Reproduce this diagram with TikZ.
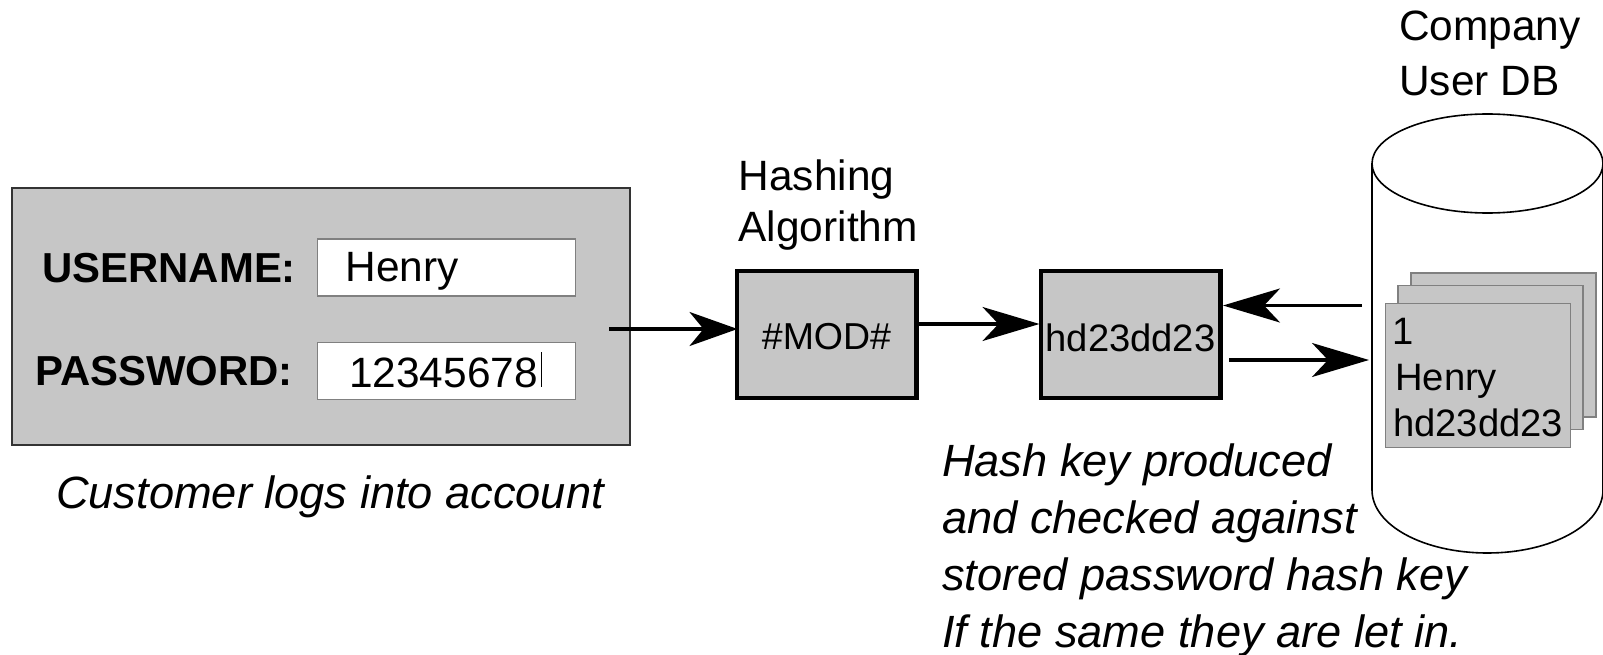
\documentclass[tikz,border=0pt]{standalone}
\usepackage{fontspec}
\setmainfont{Liberation Sans}
\usetikzlibrary{arrows.meta}

\definecolor{boxgray}{HTML}{C6C6C6}
\tikzset{
  flow/.style={line width=3.1pt, -{Stealth[length=48pt,width=34pt,inset=14pt]}, shorten >=-3pt},
  longflow/.style={line width=3.1pt, -{Stealth[length=57pt,width=34pt,inset=16pt]}, shorten >=-1pt},
  blockbox/.style={draw, fill=boxgray, line width=4.5pt, minimum width=179.5pt, minimum height=127pt, inner sep=0pt, text height=34pt, text depth=0pt, font=\fontsize{38.2}{44}\selectfont},
  fieldbox/.style={draw=gray, fill=white, line width=1.2pt, minimum width=258pt, minimum height=57pt, inner sep=0pt},
  recordbox/.style={draw=gray, fill=boxgray, line width=1.5pt, minimum width=185pt, minimum height=144pt, inner sep=0pt},
  plain/.style={inner sep=0pt, anchor=base west, font=\fontsize{42.4}{52}\selectfont},
  recordtext/.style={inner sep=0pt, anchor=base west, font=\fontsize{38.2}{44}\selectfont},
  formlabel/.style={inner sep=0pt, anchor=base west, font=\bfseries\fontsize{41.9}{52}\selectfont},
  note/.style={inner sep=0pt, anchor=base west, font=\itshape\fontsize{45.2}{57}\selectfont, align=left}
}

\begin{document}
\begin{tikzpicture}[x=1pt, y=-1pt]
\useasboundingbox (0,0) rectangle (1603,655);
% Login form on the left
\node[draw=black!80, fill=boxgray, line width=1.2pt, minimum width=618pt, minimum height=257pt, inner sep=0pt] (loginform) at (321,316.5) {};
\node[fieldbox] (userfield) at (446.5,267.5) {};
\node[fieldbox] (passfield) at (446.5,371) {};
\node[formlabel] (userlabel) at (42,282.5) {USERNAME:};
\node[formlabel] (passlabel) at (35,385.5) {PASSWORD:};
\node[plain] (usertext) at (345.5,281) {Henry};
\node[plain] (passtext) at (349,387) {12345678};
\draw[line width=1pt] (541.5,352) -- (541.5,387);
\node[note] (logincaption) at (56,508) {Customer logs into account};
% The two blocks in the middle
\node[blockbox, text height=30pt, font=\fontsize{37.5}{44}\selectfont] (modbox) at (826.5,334.5) {\#MOD\#};
\node[blockbox] (hashbox) at (1130.5,334.5) {hd23dd23};
\node[plain] (modtitle) at (738.5,190.5) {Hashing};
\node[plain] (modtitleb) at (738.5,241.5) {Algorithm};
\node[note] (hashcaption) at (942,647) {Hash key produced\\and checked against\\stored password hash key\\If the same they are let in.};
% Database cylinder
\draw[line width=1.6pt, fill=white] (1372,163.5) -- (1372,490) .. controls (1372,525) and (1423,553) .. (1487.5,553) .. controls (1551,553) and (1603,525) .. (1603,490) -- (1603,163.5);
\draw[line width=1.6pt, fill=white] (1487.5,163.5) ellipse [x radius=115.5, y radius=49.5];
\node[recordbox] (recordc) at (1503.5,345) {};
\node[recordbox] (recordb) at (1490.5,357.5) {};
\node[recordbox] (recorda) at (1478,375.5) {};
\node[recordtext] (recordid) at (1392.5,344.5) {1};
\node[recordtext] (recordname) at (1395,390) {Henry};
\node[recordtext] (recordhash) at (1393,436) {hd23dd23};
\node[plain] (dbtitle) at (1399,41) {Company};
\node[plain] (dbtitleb) at (1399,96) {User DB};
% Arrows between the parts
\coordinate (loginout) at (609,329);
\coordinate (modout) at (modbox.east |- 0,324);
\coordinate (hashback) at (1362,305.5);
\coordinate (hashout) at (1229,360);
\coordinate (dbin) at (1368,360);
\draw[flow] (loginout) -- (loginout -| modbox.west);
\draw[longflow] (modout) -- (modout -| hashbox.west);
\draw[longflow] (hashback) -- (1224,305.5);
\draw[longflow] (hashout) -- (dbin);
\end{tikzpicture}
\end{document}
